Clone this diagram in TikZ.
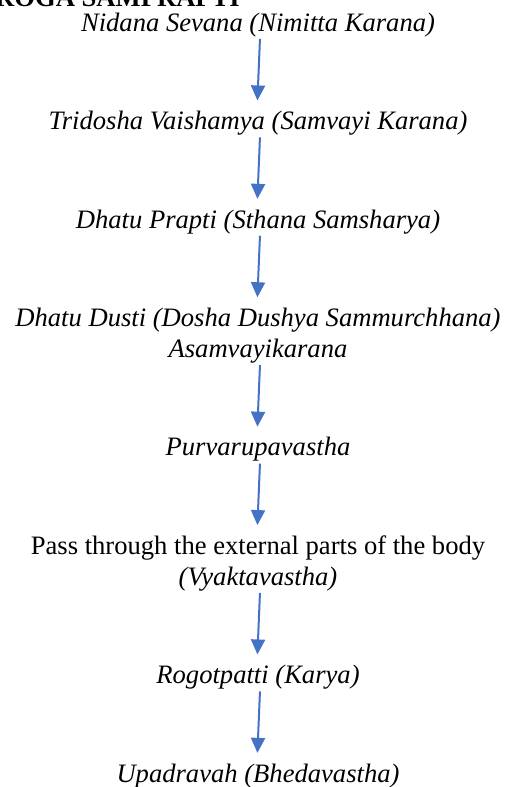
\documentclass[tikz,border=0pt]{standalone}
\usepackage{fontspec}
\setmainfont{Liberation Serif}
\usetikzlibrary{positioning,arrows.meta}
\definecolor{arrowblue}{HTML}{4472C4}

\begin{document}
\begin{tikzpicture}[x=1pt, y=1pt,
    every node/.style={inner sep=0pt, align=center, text height=19pt, text depth=6.5pt, font=\fontsize{26.6}{31}\selectfont\itshape},
    twoline/.style={text height=50pt},
    node distance=72.5pt,
    flow/.style={draw=arrowblue, line width=2pt, -{Triangle[length=15pt, width=14pt]}, shorten <=1pt, shorten >=10pt}]
    \useasboundingbox (0,0) rectangle (507,-787);
    \begin{scope}
      \clip (0,0) rectangle (507,-787);
      \node (title) [anchor=base east, font=\fontsize{26.6}{31}\selectfont\bfseries] at (240,-6) {OF ROGA SAMPRAPTI};
    \end{scope}
    \node (nidana) at (258,-25) {Nidana Sevana (Nimitta Karana)};
    \node (tridosha) [below=of nidana] {Tridosha Vaishamya (Samvayi Karana)};
    \node (prapti) [below=of tridosha] {Dhatu Prapti (Sthana Samsharya)};
    \node (dusti) [below=of prapti, twoline] {Dhatu Dusti (Dosha Dushya Sammurchhana)\\Asamvayikarana};
    \node (purva) [below=of dusti] {Purvarupavastha};
    \node (vyakta) [below=of purva, twoline] {\upshape Pass through the external parts of the body\\\itshape(Vyaktavastha)};
    \node (rogo) [below=of vyakta] {Rogotpatti (Karya)};
    \node (upa) [below=of rogo] {Upadravah (Bhedavastha)};
    % arrows lean a little to the left
    \foreach \a/\b in {nidana/tridosha, tridosha/prapti, prapti/dusti, dusti/purva, purva/vyakta, vyakta/rogo, rogo/upa}
      \draw[flow] ([xshift=2pt]\a.south) -- ([xshift=-1pt]\b.north);
\end{tikzpicture}
\end{document}
